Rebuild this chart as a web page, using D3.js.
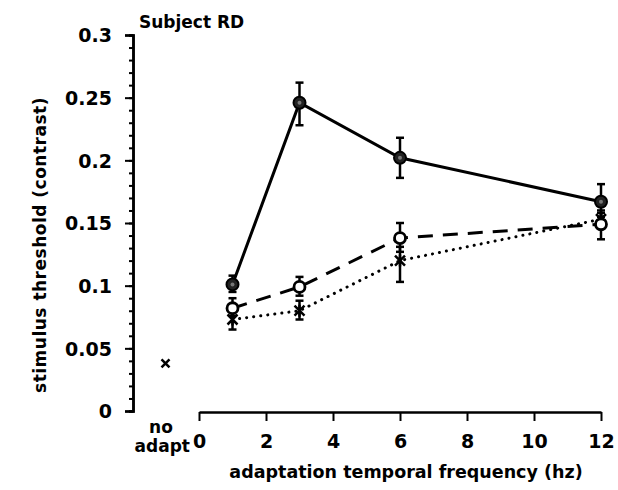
<!DOCTYPE html>
<html>
<head>
<meta charset="utf-8">
<script src="https://cdn.jsdelivr.net/npm/d3@7"></script>
<style>
  body { margin: 0; background: #fff; }
  text { font-family: "DejaVu Sans", Arial, sans-serif; font-weight: bold; fill: #000; }
</style>
</head>
<body>
<svg></svg>
<script>
// data
let freqs = [1, 3, 6, 12]
let solidVals = [0.101, 0.246, 0.202, 0.167]
let solidLo = [0.095, 0.228, 0.186, 0.155]
let solidHi = [0.108, 0.262, 0.218, 0.181]
let dashVals = [0.082, 0.099, 0.138, 0.149]
let dashLo = [0.076, 0.092, 0.127, 0.137]
let dashHi = [0.090, 0.107, 0.150, 0.158]
let dotVals = [0.073, 0.080, 0.120, 0.153]
let dotLo = [0.065, 0.073, 0.103, 0.146]
let dotHi = [0.080, 0.088, 0.131, 0.160]
let noAdaptX = -1
let noAdaptVal = 0.038
let xTicks = [0, 2, 4, 6, 8, 10, 12]
let yTicks = [0, 0.05, 0.1, 0.15, 0.2, 0.25, 0.3]

let width = 618
let height = 490

let svg = d3.select('svg')
svg.attr('width', width).attr('height', height)

let xScale = d3.scaleLinear().domain([0, 12]).range([199, 601])
let yScale = d3.scaleLinear().domain([0, 0.3]).range([411, 35])

// y axis with minor ticks
let yMinor = d3.axisLeft(yScale).tickValues(d3.range(0, 0.3001, 0.01)).tickSize(4).tickFormat('')
svg.append('g')
   .attr('transform', 'translate(133, 0)')
   .call(yMinor)
let yAxis = d3.axisLeft(yScale).tickValues(yTicks).tickSize(8).tickPadding(13)
   .tickFormat(d => d === 0 ? '0' : d3.format('')(+d.toFixed(2)))
let yG = svg.append('g')
   .attr('id', 'y-axis')
   .attr('transform', 'translate(133, 0)')
   .call(yAxis)
svg.selectAll('g .domain').attr('stroke-width', 2.5)
svg.selectAll('g .tick line').attr('stroke-width', 2)
yG.selectAll('text').style('font-size', '19px').attr('dy', '0.36em')

// x axis
let xAxis = d3.axisBottom(xScale).tickValues(xTicks).tickSize(9).tickSizeOuter(0).tickPadding(10)
let xG = svg.append('g')
   .attr('id', 'x-axis')
   .attr('transform', 'translate(0, 412)')
   .call(xAxis)
xG.select('.domain').attr('stroke-width', 2.5)
xG.selectAll('.tick line').attr('stroke-width', 2)
xG.selectAll('text').style('font-size', '19px').attr('dy', '0.9em')

// labels
svg.append('text').attr('x', 139).attr('y', 28).style('font-size', '17px').text('Subject RD')
svg.append('text').attr('x', 161).attr('y', 433).attr('text-anchor', 'middle').style('font-size', '17px').text('no')
svg.append('text').attr('x', 190).attr('y', 452).attr('text-anchor', 'end').style('font-size', '17px').text('adapt')
svg.append('text').attr('x', 406).attr('y', 478).attr('text-anchor', 'middle').style('font-size', '17.5px')
   .text('adaptation temporal frequency (hz)')
svg.append('text').attr('transform', 'translate(46, 245) rotate(-90)').attr('text-anchor', 'middle')
   .style('font-size', '17px').style('letter-spacing', '0.5px').text('stimulus threshold (contrast)')

let line = d3.line().x(d => xScale(d[0])).y(d => yScale(d[1]))

let drawSeries = (vals, lo, hi, dash, marker) => {
    let pts = freqs.map((f, i) => [f, vals[i], lo[i], hi[i]])
    svg.append('path')
       .datum(pts)
       .attr('d', line)
       .attr('fill', 'none')
       .attr('stroke', '#000')
       .attr('stroke-width', 3)
       .attr('stroke-linecap', dash === 'dot' ? 'round' : 'butt')
       .attr('stroke-dasharray', dash === 'dot' ? '0.1 7' : dash)
    let g = svg.append('g')
    pts.forEach(p => {
        let x = xScale(p[0])
        g.append('line').attr('x1', x).attr('x2', x).attr('y1', yScale(p[2])).attr('y2', yScale(p[3]))
         .attr('stroke', '#000').attr('stroke-width', 2.5)
        ;[p[2], p[3]].forEach(v => {
            g.append('line').attr('x1', x - 4).attr('x2', x + 4).attr('y1', yScale(v)).attr('y2', yScale(v))
             .attr('stroke', '#000').attr('stroke-width', 2.5)
        })
        let y = yScale(p[1])
        if (marker === 'filled') {
            g.append('circle').attr('cx', x).attr('cy', y).attr('r', 6)
             .attr('fill', '#222').attr('stroke', '#000').attr('stroke-width', 2)
            g.append('circle').attr('cx', x).attr('cy', y).attr('r', 2).attr('fill', '#777')
        } else if (marker === 'open') {
            g.append('circle').attr('cx', x).attr('cy', y).attr('r', 5.5)
             .attr('fill', '#fff').attr('stroke', '#000').attr('stroke-width', 2.8)
        } else {
            g.append('path').attr('d', `M${x-5},${y-5}L${x+5},${y+5}M${x+5},${y-5}L${x-5},${y+5}M${x},${y-6}L${x},${y+6}`)
             .attr('stroke', '#000').attr('stroke-width', 2.5)
        }
    })
}

drawSeries(dotVals, dotLo, dotHi, 'dot', 'star')
drawSeries(dashVals, dashLo, dashHi, '15 10', 'open')
drawSeries(solidVals, solidLo, solidHi, null, 'filled')

// no adapt point
let nx = xScale(noAdaptX), ny = yScale(noAdaptVal)
svg.append('path').attr('d', `M${nx-4},${ny-4}L${nx+4},${ny+4}M${nx+4},${ny-4}L${nx-4},${ny+4}`)
   .attr('stroke', '#000').attr('stroke-width', 2.5)
</script>
</body>
</html>
